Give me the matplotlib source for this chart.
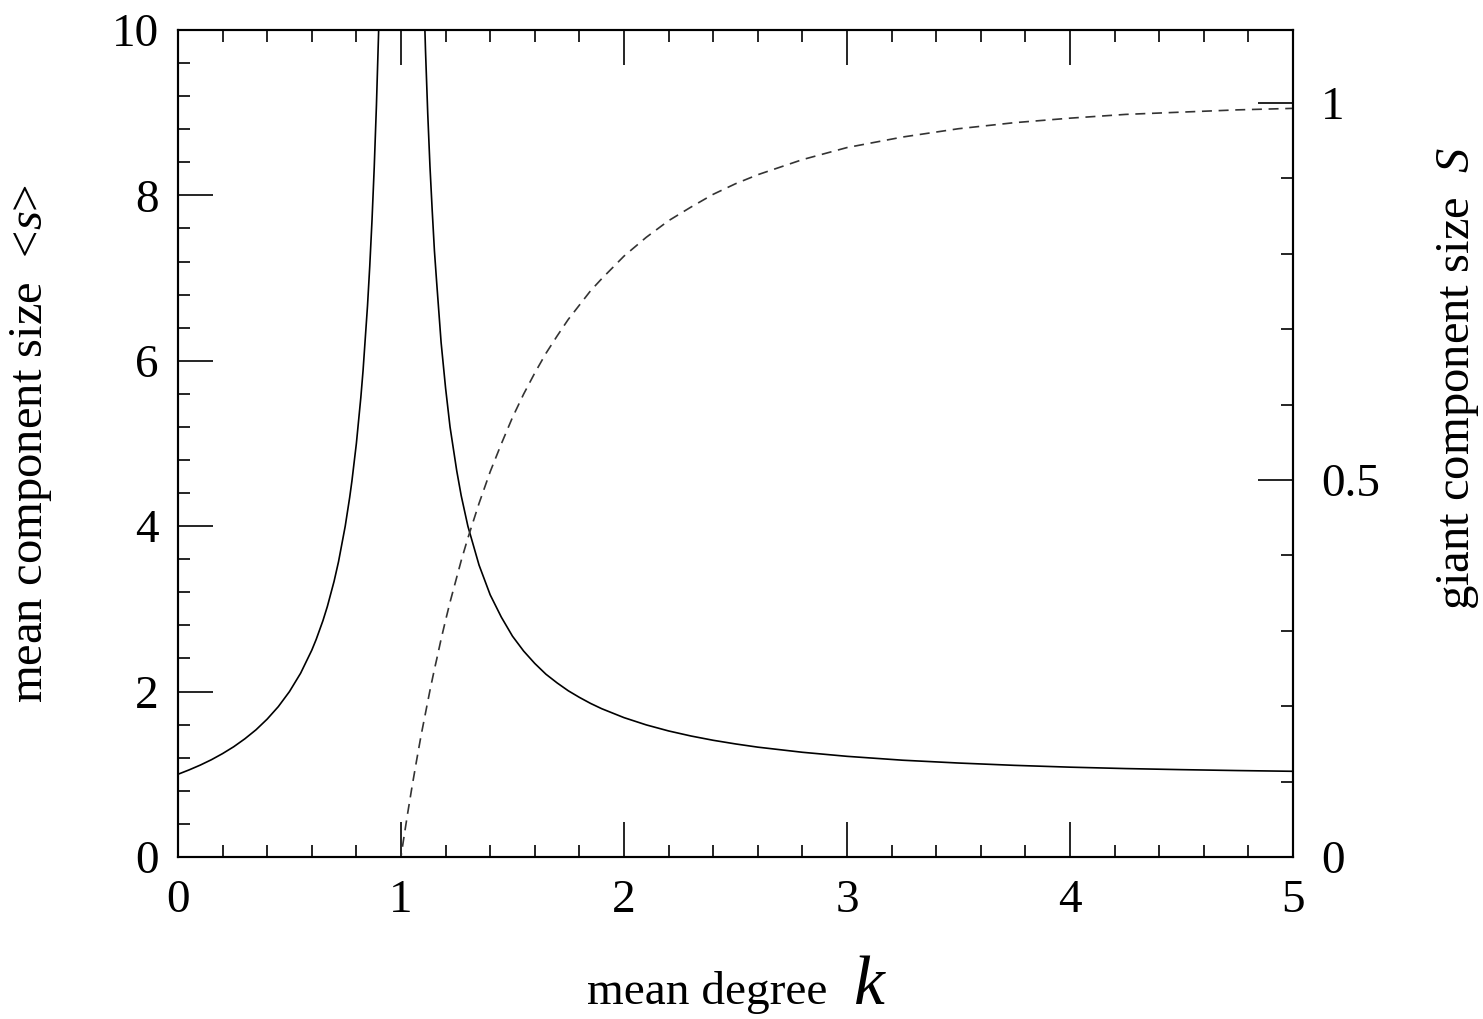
import matplotlib
matplotlib.use("Agg")
import matplotlib.pyplot as plt
from matplotlib.ticker import MultipleLocator

plt.rcParams['font.family'] = ['Liberation Serif', 'DejaVu Serif']
plt.rcParams['mathtext.fontset'] = 'custom'
plt.rcParams['mathtext.rm'] = 'Liberation Serif'
plt.rcParams['mathtext.it'] = 'Liberation Serif:italic'

# mean component size, below the transition
k_low = [0, 0.05, 0.1, 0.15, 0.2, 0.25, 0.3, 0.35, 0.4, 0.45, 0.5, 0.55, 0.6, 0.62, 0.65, 0.67, 0.7,
         0.72, 0.75, 0.77, 0.78, 0.8, 0.82, 0.83, 0.85, 0.86, 0.87, 0.88, 0.89, 0.9, 0.91]
s_low = [1.0, 1.053, 1.111, 1.176, 1.25, 1.333, 1.429, 1.538, 1.667, 1.818, 2.0, 2.222, 2.5, 2.632,
         2.857, 3.030, 3.333, 3.571, 4.0, 4.348, 4.545, 5.0, 5.556, 5.882, 6.667, 7.143, 7.692, 8.333,
         9.091, 10.0, 11.11]

# mean component size, above the transition
k_high = [1.10, 1.11, 1.12, 1.13, 1.14, 1.15, 1.16, 1.18, 1.2, 1.22, 1.25, 1.27, 1.3, 1.35, 1.4, 1.45,
          1.5, 1.55, 1.6, 1.65, 1.7, 1.75, 1.8, 1.85, 1.9, 2.0, 2.1, 2.2, 2.3, 2.4, 2.5, 2.6, 2.8, 3.0,
          3.25, 3.5, 3.75, 4.0, 4.25, 4.5, 4.75, 5.0]
s_high = [10.67, 9.75, 8.99, 8.35, 7.82, 7.33, 6.95, 6.22, 5.67, 5.20, 4.67, 4.37, 4.00, 3.53, 3.17,
          2.90, 2.67, 2.49, 2.34, 2.21, 2.105, 2.01, 1.93, 1.857, 1.793, 1.685, 1.597, 1.524, 1.463,
          1.411, 1.367, 1.328, 1.266, 1.217, 1.170, 1.136, 1.108, 1.086, 1.069, 1.056, 1.045, 1.036]

# giant component size
k_giant = [0, 1.0, 1.01, 1.02, 1.03, 1.05, 1.07, 1.09, 1.1, 1.12, 1.13, 1.14, 1.15, 1.16, 1.18, 1.2,
           1.22, 1.25, 1.27, 1.3, 1.35, 1.4, 1.45, 1.5, 1.55, 1.6, 1.65, 1.7, 1.75, 1.8, 1.85, 1.9, 2.0,
           2.1, 2.2, 2.3, 2.4, 2.5, 2.6, 2.8, 3.0, 3.25, 3.5, 3.75, 4.0, 4.25, 4.5, 4.75, 5.0]
S_giant = [0, 0, 0.020, 0.039, 0.058, 0.094, 0.128, 0.161, 0.176, 0.206, 0.221, 0.235, 0.249, 0.262,
           0.289, 0.314, 0.338, 0.371, 0.393, 0.423, 0.469, 0.511, 0.548, 0.583, 0.614, 0.642, 0.668,
           0.691, 0.713, 0.732, 0.751, 0.767, 0.797, 0.822, 0.844, 0.862, 0.879, 0.893, 0.905, 0.925,
           0.941, 0.955, 0.966, 0.974, 0.980, 0.985, 0.988, 0.991, 0.993]

fig = plt.figure(figsize=(14.83, 10.19), dpi=100)
ax = fig.add_axes([0.12, 0.159, 0.7519, 0.8116])
ax2 = ax.twinx()

ax.plot(k_low, s_low, color='black', lw=1.2)
ax.plot(k_high, s_high, color='black', lw=1.2)
ax2.plot(k_giant, S_giant, color='#333333', lw=1.2, linestyle=(0, (6, 4)))

ax.set_xlim(0, 5)
ax.set_ylim(0, 10)
ax2.set_ylim(0, 1.097)

ax.xaxis.set_major_locator(MultipleLocator(1))
ax.xaxis.set_minor_locator(MultipleLocator(0.2))
ax.yaxis.set_major_locator(MultipleLocator(2))
ax.yaxis.set_minor_locator(MultipleLocator(0.4))
ax2.yaxis.set_minor_locator(MultipleLocator(0.1))
ax2.set_yticks([0, 0.5, 1])
ax2.set_yticklabels(['0', '0.5', '1'])

ax.tick_params(axis='x', which='both', direction='in', top=True, labelsize=34, pad=16)
ax.tick_params(axis='y', which='both', direction='in', right=False, labelsize=34, pad=14)
ax.tick_params(which='major', length=25, width=1.2)
ax.tick_params(which='minor', length=8.5, width=1.2)
ax2.tick_params(axis='y', which='both', direction='in', labelsize=34, pad=20)
ax2.tick_params(which='major', length=25, width=1.2)
ax2.tick_params(which='minor', length=8.5, width=1.2)

for a in (ax, ax2):
    for sp in a.spines.values():
        sp.set_linewidth(1.5)

fig.text(0.021, 0.565, 'mean component size  <$s$>', rotation=90, fontsize=35,
         ha='center', va='center')
fig.text(0.983, 0.629, 'giant component size  $S$', rotation=90, fontsize=35,
         ha='center', va='center')
fig.text(0.558, 0.015, 'mean degree', fontsize=34, ha='right', va='baseline')
fig.text(0.575, 0.015, '$k$', fontsize=50, ha='left', va='baseline')

plt.savefig('out.png', dpi=100)
